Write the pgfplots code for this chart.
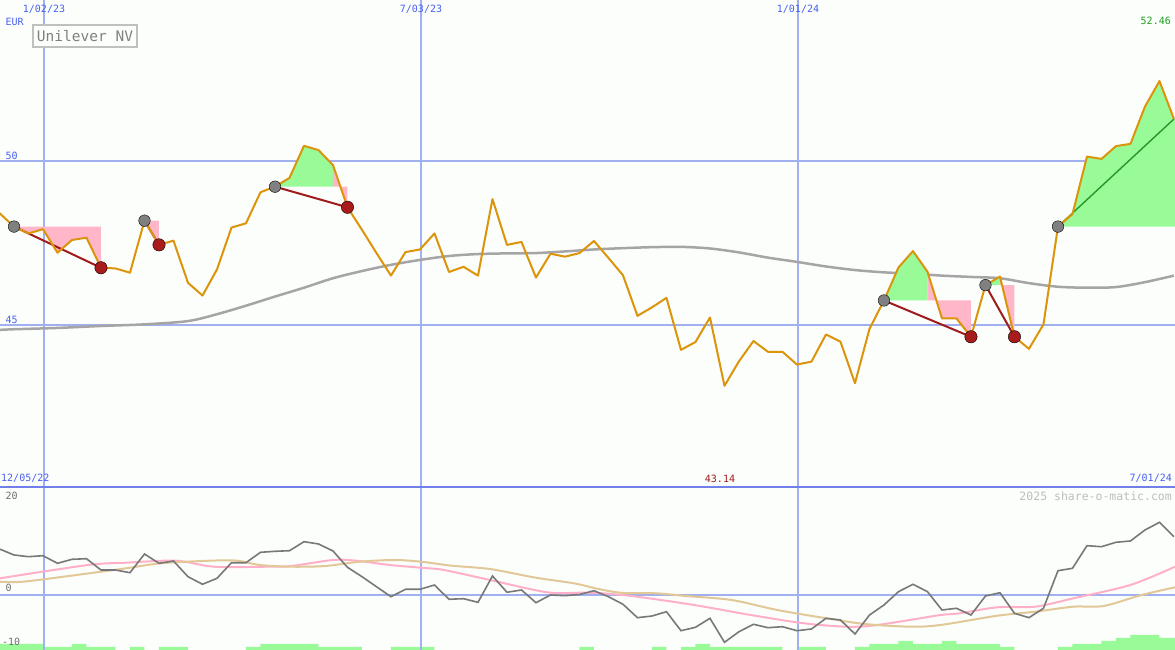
\documentclass[border=0pt]{standalone}
\usepackage{pgfplots}
\pgfplotsset{compat=1.18}
\usepackage{pgfplotstable}
\usepackage{fontspec}
\setmainfont{DejaVu Sans Mono}

\definecolor{bg}{RGB}{252,254,252}
\definecolor{gridblue}{RGB}{160,176,240}
\definecolor{bordblue}{RGB}{112,128,232}
\definecolor{textblue}{RGB}{72,96,240}
\definecolor{priceor}{RGB}{220,148,10}
\definecolor{magray}{RGB}{165,165,165}
\definecolor{gfill}{RGB}{152,251,152}
\definecolor{pfill}{RGB}{255,182,200}
\definecolor{dotgray}{RGB}{128,128,128}
\definecolor{dotred}{RGB}{168,28,28}
\definecolor{linered}{RGB}{160,28,28}
\definecolor{linegreen}{RGB}{40,150,40}
\definecolor{momgray}{RGB}{120,120,120}
\definecolor{pinkline}{RGB}{255,176,200}
\definecolor{tanline}{RGB}{226,200,150}
\definecolor{textgreen}{RGB}{30,160,30}
\definecolor{textred}{RGB}{160,28,28}
\definecolor{wmgray}{RGB}{190,190,190}
\definecolor{lblgray}{RGB}{110,110,110}
\definecolor{boxgray}{RGB}{192,192,192}
\definecolor{boxtext}{RGB}{128,128,128}

\pgfplotstableread{
k p
-1 48.42
0 48.01
1 47.80
2 47.93
3 47.21
4 47.60
5 47.67
6 46.75
7 46.73
8 46.60
9 48.19
10 47.45
11 47.58
12 46.29
13 45.90
14 46.70
15 47.98
16 48.11
17 49.06
18 49.23
19 49.50
20 50.48
21 50.35
22 49.89
23 48.60
24 47.91
25 47.20
26 46.51
27 47.23
28 47.31
29 47.80
30 46.62
31 46.78
32 46.51
33 48.85
34 47.45
35 47.54
36 46.45
37 47.18
38 47.09
39 47.20
40 47.57
41 47.05
42 46.52
43 45.28
44 45.54
45 45.83
46 44.24
47 44.48
48 45.23
49 43.14
50 43.89
51 44.51
52 44.18
53 44.18
54 43.79
55 43.88
56 44.71
57 44.49
58 43.22
59 44.88
60 45.75
61 46.76
62 47.26
63 46.63
64 45.20
65 45.20
66 44.64
67 46.22
68 46.48
69 44.64
70 44.27
71 45.02
72 48.01
73 48.39
74 50.15
75 50.08
76 50.47
77 50.54
78 51.68
79 52.46
80 51.30
}\price

\pgfplotstableread{
k m
-1 44.85
0 44.87
3 44.91
6 44.97
9 45.02
12 45.12
14 45.33
16 45.59
18 45.87
20 46.14
22 46.43
24 46.65
26 46.84
28 46.99
30 47.11
32 47.17
34 47.19
36 47.20
38 47.25
40 47.31
42 47.35
44 47.38
46 47.39
48 47.34
50 47.22
52 47.06
54 46.93
56 46.79
58 46.68
60 46.61
62 46.57
64 46.51
66 46.47
68 46.43
70 46.28
72 46.17
74 46.14
76 46.16
78 46.31
80 46.51
}\ma

\pgfplotstableread{
k v
-1 10.00
0 8.70
1 8.33
2 8.54
3 6.89
4 7.76
5 7.89
6 5.43
7 5.43
8 4.85
9 8.91
10 6.89
11 7.39
12 3.98
13 2.33
14 3.63
15 7.02
16 7.02
17 9.28
18 9.50
19 9.63
20 11.59
21 11.09
22 9.57
23 6.02
24 3.98
25 1.80
26 -0.37
27 1.24
28 1.24
29 2.17
30 -0.93
31 -0.80
32 -1.59
33 4.13
34 0.59
35 1.09
36 -1.67
37 0.00
38 -0.15
39 0.11
40 0.93
41 -0.37
42 -2.02
43 -4.93
44 -4.57
45 -3.63
46 -7.76
47 -7.02
48 -5.07
49 -10.28
50 -7.98
51 -6.37
52 -7.11
53 -6.89
54 -7.76
55 -7.39
56 -5.07
57 -5.43
58 -8.48
59 -4.35
60 -2.17
61 0.72
62 2.33
63 0.72
64 -3.26
65 -2.89
66 -4.35
67 -0.22
68 0.50
69 -3.98
70 -4.93
71 -2.89
72 5.28
73 5.80
74 10.72
75 10.50
76 11.46
77 11.74
78 14.13
79 15.80
80 12.67
}\mom

\pgfplotstableread{
k v
-0.97 3.63
5.10 6.52
7.72 7.02
11.17 7.46
13.79 6.15
17.52 6.15
19.10 6.30
22.00 7.61
23.59 7.46
25.93 6.52
28.07 5.93
29.66 5.43
32.83 3.26
36.76 0.59
39.17 0.50
40.61 0.37
42.97 -0.37
46.90 -2.17
50.81 -4.35
54.48 -6.15
57.36 -6.89
59.17 -6.67
61.79 -5.43
63.90 -4.35
65.21 -3.98
67.83 -2.67
70.44 -2.54
73.06 -0.72
76.99 2.17
80.07 6.15
}\pinkd

\pgfplotstableread{
k v
-0.97 2.89
0.62 2.89
4.31 4.35
7.72 5.80
10.12 6.89
13.55 7.46
15.38 7.46
16.97 6.52
19.10 6.15
21.45 6.30
23.86 7.24
26.21 7.61
28.07 7.24
30.18 6.37
32.83 5.65
35.99 3.76
38.62 2.54
40.41 1.24
42.00 0.45
44.27 0.37
46.37 -0.22
49.50 -1.09
52.64 -3.26
56.05 -5.07
58.66 -6.30
61.81 -6.89
63.90 -6.52
67.83 -4.50
70.44 -3.63
73.06 -2.54
75.15 -2.39
77.77 0.00
80.07 1.67
}\tand

\pgfplotstableread{
k v
-1 2
0 2
1 2
2 1
3 1
4 2
5 1
6 1
7 0
8 1
9 0
10 1
11 1
12 0
13 0
14 0
15 0
16 1
17 2
18 2
19 2
20 2
21 1
22 1
23 1
24 0
25 0
26 1
27 1
28 1
29 0
30 0
31 0
32 0
33 0
34 0
35 0
36 0
37 0
38 0
39 1
40 0
41 0
42 0
43 0
44 1
45 0
46 1
47 2
48 1
49 1
50 1
51 1
52 1
53 0
54 1
55 1
56 0
57 0
58 1
59 2
60 2
61 3
62 2
63 2
64 3
65 2
66 2
67 2
68 1
69 0
70 0
71 0
72 1
73 2
74 2
75 3
76 4
77 5
78 5
79 4
80 4
80.07 4
}\vol

\pgfplotsset{
  chartbase/.style={
    scale only axis, width=1175bp, anchor=south west,
    xmin=-0.9655, xmax=80.069,
    axis line style={draw=none}, tick style={draw=none},
    major tick length=0pt,
    xtick=\empty, ytick=\empty,
    extra x ticks={2.069,28.069,54.069}, extra x tick labels={},
    extra tick style={grid=major, grid style={gridblue, line width=1.4bp}, major grid style={gridblue, line width=1.4bp}},
  }
}

\newcommand\lbl{\fontsize{10bp}{12bp}\selectfont}

\begin{document}
\begin{tikzpicture}
\fill[bg] (0,0) rectangle (1175bp,650bp);

% volume bars
\begin{axis}[at={(0bp,0bp)}, anchor=south west, scale only axis, width=1175bp, height=163bp,
  xmin=-0.9655, xmax=80.069, ymin=0, ymax=54.333, hide axis]
\addplot[const plot, fill=gfill, draw=none] table[x=k, y=v] {\vol} \closedcycle;
\end{axis}

% lower indicator panel
\begin{axis}[chartbase, at={(0bp,0bp)}, height=163bp,
  ymin=-11.957, ymax=23.478, extra y ticks={0}, extra y tick labels={},
  extra y tick style={grid=major, grid style={gridblue, line width=2bp}, major grid style={gridblue, line width=2bp}}]
\addplot[pinkline, line width=2bp, smooth, mark=none] table[x=k, y=v] {\pinkd};
\addplot[tanline, line width=2bp, smooth, mark=none] table[x=k, y=v] {\tand};
\addplot[momgray, line width=1.6bp, mark=none] table[x=k, y=v] {\mom};
\end{axis}

% upper price panel
\begin{axis}[chartbase, at={(0bp,163bp)}, height=487bp,
  ymin=40.046, ymax=54.939, extra y ticks={45,50}, extra y tick labels={},
  extra y tick style={grid=major, grid style={gridblue, line width=2bp}, major grid style={gridblue, line width=2bp}}]
\addplot[magray, line width=2.5bp, smooth, mark=none] table[x=k, y=m] {\ma};
% pattern fills
\addplot[fill=pfill, draw=none] coordinates {(0,48.01) (1,47.80) (2,47.93) (3,47.21) (4,47.60) (5,47.67) (6,46.75) (6,48.01)} -- cycle;
\addplot[fill=pfill, draw=none] coordinates {(9,48.19) (10,47.45) (10,48.19)} -- cycle;
\addplot[fill=gfill, draw=none] coordinates {(18,49.23) (19,49.50) (20,50.48) (21,50.35) (22,49.89) (22,49.23)} -- cycle;
\addplot[fill=pfill, draw=none] coordinates {(22,49.89) (23,48.60) (23,49.23) (22,49.23)} -- cycle;
\addplot[fill=gfill, draw=none] coordinates {(60,45.75) (61,46.76) (62,47.26) (63,46.63) (63,45.75)} -- cycle;
\addplot[fill=pfill, draw=none] coordinates {(63,46.63) (64,45.20) (65,45.20) (66,44.64) (66,45.75) (63,45.75)} -- cycle;
\addplot[fill=gfill, draw=none] coordinates {(67,46.22) (68,46.48) (68,46.22)} -- cycle;
\addplot[fill=pfill, draw=none] coordinates {(68,46.48) (69,44.64) (69,46.22) (68,46.22)} -- cycle;
\addplot[fill=gfill, draw=none] coordinates {(72,48.01) (73,48.39) (74,50.15) (75,50.08) (76,50.47) (77,50.54) (78,51.68) (79,52.46) (80,51.30) (80.069,51.30) (80.069,48.01)} -- cycle;
% connecting lines
\addplot[linered, line width=2bp, mark=none] coordinates {(0,48.01) (6,46.75)};
\addplot[linered, line width=2bp, mark=none] coordinates {(9,48.19) (10,47.45)};
\addplot[linered, line width=2bp, mark=none] coordinates {(18,49.23) (23,48.60)};
\addplot[linered, line width=2bp, mark=none] coordinates {(60,45.75) (66,44.64)};
\addplot[linered, line width=2bp, mark=none] coordinates {(67,46.22) (69,44.64)};
\addplot[linegreen, line width=1.4bp, mark=none] coordinates {(72,48.01) (80,51.30)};
% dots
\addplot[only marks, mark=*, mark size=5.8bp, draw=none, fill=dotgray, mark options={draw=none, fill=dotgray}] coordinates {(0,48.01) (9,48.19) (18,49.23) (60,45.75) (67,46.22) (72,48.01)};
\addplot[only marks, mark=*, mark size=6.2bp, draw=none, fill=dotred, mark options={draw=none, fill=dotred}] coordinates {(6,46.75) (10,47.45) (23,48.60) (66,44.64) (69,44.64)};
% price line
\addplot[priceor, line width=2bp, mark=none, line join=round] table[x=k, y=p] {\price};
\end{axis}

% panel separator
\draw[bordblue, line width=2bp] (0bp,163bp) -- (1175bp,163bp);

% labels
\node[text=textblue, inner sep=0, font=\lbl] at (44bp,641bp) {1/02/23};
\node[text=textblue, inner sep=0, font=\lbl] at (421bp,641bp) {7/03/23};
\node[text=textblue, inner sep=0, font=\lbl] at (798bp,641bp) {1/01/24};
\node[text=textblue, inner sep=0, font=\lbl, anchor=west] at (5.5bp,628.5bp) {EUR};
\node[text=textgreen, inner sep=0, font=\lbl, anchor=east] at (1171bp,629bp) {52.46};
\node[draw=boxgray, line width=2bp, fill=bg, text=boxtext, inner sep=0,
      minimum width=104bp, minimum height=22bp, font=\fontsize{14.5bp}{16bp}\selectfont]
      at (85bp,613.7bp) {Unilever NV};
\node[text=textblue, inner sep=0, font=\lbl, anchor=west] at (5.5bp,494bp) {50};
\node[text=textblue, inner sep=0, font=\lbl, anchor=west] at (5.5bp,330.5bp) {45};
\node[text=textblue, inner sep=0, font=\lbl, anchor=west] at (1bp,171.5bp) {12/05/22};
\node[text=textred, inner sep=0, font=\lbl] at (720bp,171.5bp) {43.14};
\node[text=textblue, inner sep=0, font=\lbl, anchor=east] at (1172bp,171.5bp) {7/01/24};
\node[text=wmgray, inner sep=0, font=\fontsize{11.5bp}{13bp}\selectfont, anchor=east] at (1172bp,154bp) {2025 share-o-matic.com};
\node[text=lblgray, inner sep=0, font=\lbl, anchor=west] at (5.5bp,154.5bp) {20};
\node[text=lblgray, inner sep=0, font=\lbl, anchor=west] at (5.5bp,62bp) {0};
\node[text=lblgray, inner sep=0, font=\lbl, anchor=west] at (2bp,8bp) {-10};

\pgfresetboundingbox
\useasboundingbox (0,0) rectangle (1175bp,650bp);
\end{tikzpicture}
\end{document}
